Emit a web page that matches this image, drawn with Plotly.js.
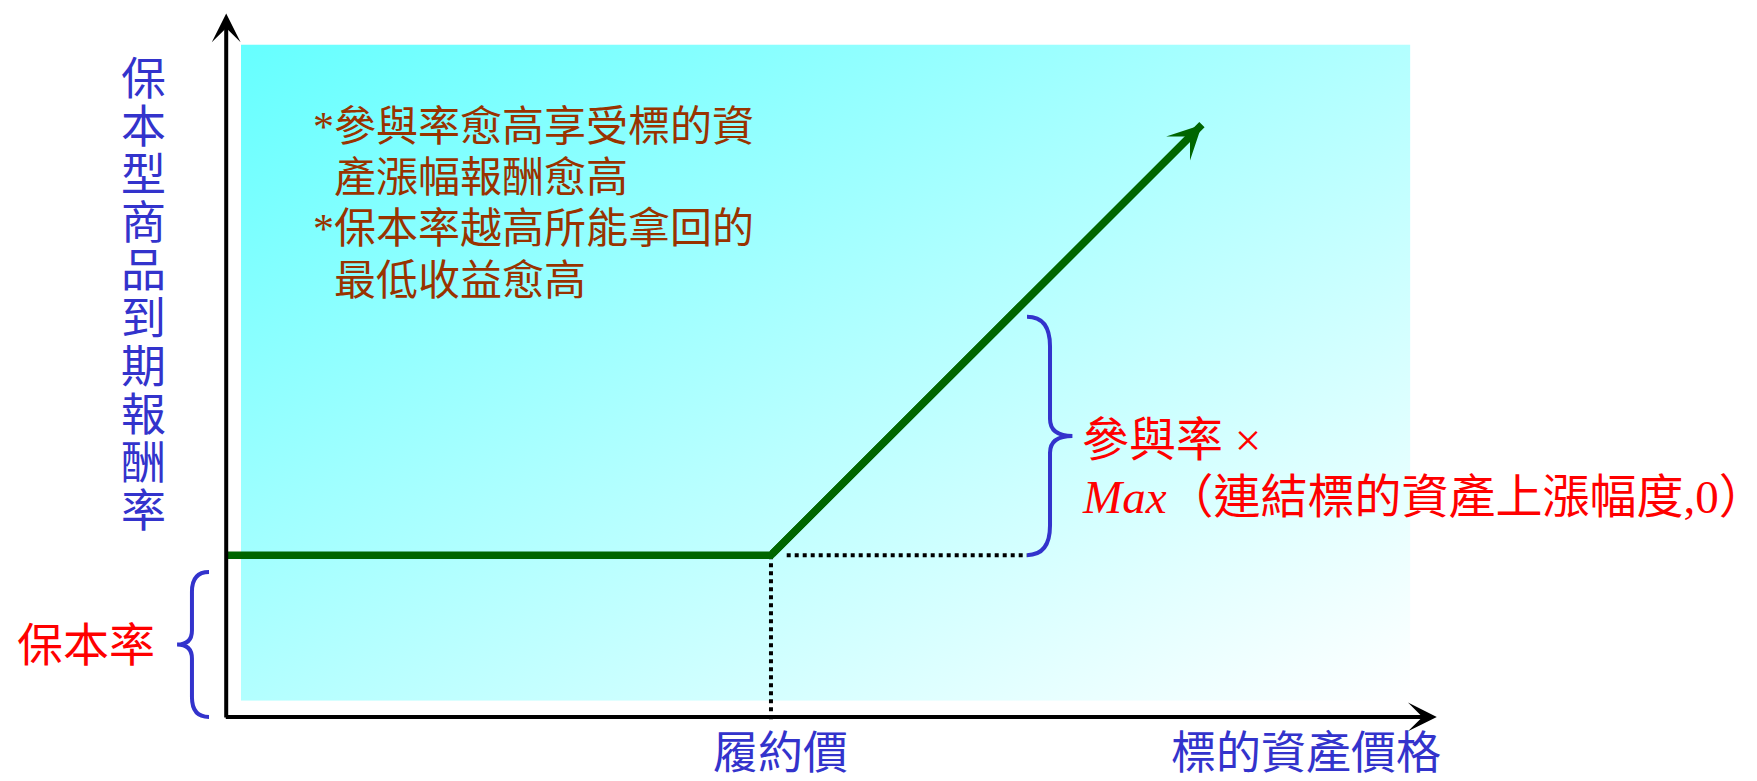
<!DOCTYPE html>
<html>
<head>
<meta charset="utf-8">
<script src="https://cdn.plot.ly/plotly-3.0.1.min.js"></script>
<style>
html,body{margin:0;padding:0;background:#ffffff;}
#chart{width:1757px;height:781px;}
</style>
</head>
<body>
<div id="chart"></div>
<script>
// ---------------- data ----------------
const payoffX = [0, 45, 80.6];          // underlying asset price (index units)
const payoffY = [23, 23, 84.2];         // product return at maturity (index units)
const strikePrice = 45;                 // 履約價
const guaranteeRate = 23;               // 保本率 level
const participationTop = 56.9;          // top of the participation bracket
const yTitleChars = ['保','本','型','商','品','到','期','報','酬','率'];
const noteLines = ['*參與率愈高享受標的資', '產漲幅報酬愈高', '*保本率越高所能拿回的', '最低收益愈高'];
const formulaLines = ['參與率 ×', '<i>Max</i>（連結標的資產上漲幅度,0）'];
const strikeLabel = '履約價';
const xTitle = '標的資產價格';
const guaranteeLabel = '保本率';

// ---------------- layout helpers ----------------
const xr = [-2, 102], yr = [-2, 100.5];
const px = v => (v - xr[0]) / (xr[1] - xr[0]);
const py = v => (v - yr[0]) / (yr[1] - yr[0]);
const FONT = '"Liberation Serif", "Noto Sans CJK TC", serif';
const BLUE = '#3333CC', RED = '#FF0000', BROWN = '#993300', GREEN = '#006600';

function bracePath(xEnd, xMid, xTip, yLo, yHi, rEnd, rTip) {
  const yM = (yLo + yHi) / 2;
  const P = (x, y) => px(x).toFixed(5) + ',' + py(y).toFixed(5);
  return 'M' + P(xEnd, yHi) +
    ' Q' + P(xMid, yHi) + ' ' + P(xMid, yHi - rEnd) +
    ' L' + P(xMid, yM + rTip) +
    ' Q' + P(xMid, yM) + ' ' + P(xTip, yM) +
    ' Q' + P(xMid, yM) + ' ' + P(xMid, yM - rTip) +
    ' L' + P(xMid, yLo + rEnd) +
    ' Q' + P(xMid, yLo) + ' ' + P(xEnd, yLo);
}

const bracketX = 66.15;

const gradSvg = '<svg xmlns="http://www.w3.org/2000/svg" width="100" height="100" preserveAspectRatio="none">' +
  '<defs><linearGradient id="g" x1="0" y1="0" x2="1" y2="1">' +
  '<stop offset="0" stop-color="#66FFFF"/><stop offset="1" stop-color="#FFFFFF"/></linearGradient></defs>' +
  '<rect width="100" height="100" fill="url(#g)"/></svg>';

// ---------------- traces ----------------
const traces = [
  { // vertical dotted guide at strike
    x: [strikePrice, strikePrice], y: [guaranteeRate, -0.4], mode: 'lines',
    line: { color: '#000000', width: 4, dash: '4px,4px' }, hoverinfo: 'skip'
  },
  { // horizontal dotted guide from strike to bracket
    x: [strikePrice + 1.3, bracketX], y: [guaranteeRate, guaranteeRate], mode: 'lines',
    line: { color: '#000000', width: 4, dash: '4px,4px' }, hoverinfo: 'skip'
  },
  { // payoff line
    x: payoffX, y: payoffY, mode: 'lines',
    line: { color: GREEN, width: 7.5 }, hoverinfo: 'skip'
  }
];

// ---------------- annotations ----------------
const ann = [];
// axes arrows
ann.push({ x: 0, y: 100, ax: 0, ay: -0.28, xref: 'x', yref: 'y', axref: 'x', ayref: 'y',
  text: '', showarrow: true, arrowhead: 3, arrowsize: 1.2, arrowwidth: 4, arrowcolor: '#000000' });
ann.push({ x: 100, y: 0, ax: -0.16, ay: 0, xref: 'x', yref: 'y', axref: 'x', ayref: 'y',
  text: '', showarrow: true, arrowhead: 3, arrowsize: 1.2, arrowwidth: 4, arrowcolor: '#000000' });
// payoff arrow head on the last segment
ann.push({ x: payoffX[2], y: payoffY[2], ax: payoffX[1], ay: payoffY[1],
  xref: 'x', yref: 'y', axref: 'x', ayref: 'y',
  text: '', showarrow: true, arrowhead: 3, arrowsize: 0.75, arrowwidth: 7.5, arrowcolor: GREEN });

function label(x, y, text, size, color, xanchor) {
  ann.push({ x: px(x), y: py(y), xref: 'paper', yref: 'paper', text: text, showarrow: false,
    xanchor: xanchor, yanchor: 'middle', font: { family: FONT, size: size, color: color } });
}
// vertical y title
yTitleChars.forEach((c, i) => label(-6.87, 90.5 - 6.82 * i, c, 45, BLUE, 'center'));
// notes
const noteX = [7.03, 8.77, 7.03, 8.77];
const noteY = [83.8, 76.6, 69.3, 62.0];
noteLines.forEach((t, i) => label(noteX[i], noteY[i], t, 42, BROWN, 'left'));
// formula
const formulaY = [39.3, 31.2];
formulaLines.forEach((t, i) => label(70.5, formulaY[i], t, 47, RED, 'left'));
// guarantee label
label(-5.7, guaranteeRate * 0.44, guaranteeLabel, 46, RED, 'right');
// strike label
label(strikePrice + 0.8, -5.3, strikeLabel, 45, BLUE, 'center');
// x title
label(100.5, -5.3, xTitle, 45, BLUE, 'right');

// ---------------- shapes (braces) ----------------
const shapes = [
  { type: 'path', xref: 'paper', yref: 'paper',
    path: bracePath(bracketX, 68.05, 69.9, guaranteeRate, participationTop, 4.2, 2.4),
    line: { color: BLUE, width: 4 } },
  { type: 'path', xref: 'paper', yref: 'paper',
    path: bracePath(-1.42, -2.83, -4.06, 0, guaranteeRate - 2.4, 2.8, 2.0),
    line: { color: BLUE, width: 4 } }
];

const layout = {
  width: 1757, height: 781,
  margin: { l: 202, r: 296, t: 9.5, b: 50, pad: 0 },
  paper_bgcolor: '#ffffff', plot_bgcolor: 'rgba(0,0,0,0)',
  showlegend: false,
  xaxis: { range: xr, visible: false, fixedrange: true },
  yaxis: { range: yr, visible: false, fixedrange: true },
  images: [{
    source: 'data:image/svg+xml;charset=utf-8,' + encodeURIComponent(gradSvg),
    xref: 'x', yref: 'y', x: 1.22, y: 95.6, sizex: 96.6, sizey: 93.3,
    xanchor: 'left', yanchor: 'top', sizing: 'stretch', layer: 'below'
  }],
  annotations: ann,
  shapes: shapes
};

Plotly.newPlot('chart', traces, layout, { staticPlot: true, displayModeBar: false });
</script>
</body>
</html>
